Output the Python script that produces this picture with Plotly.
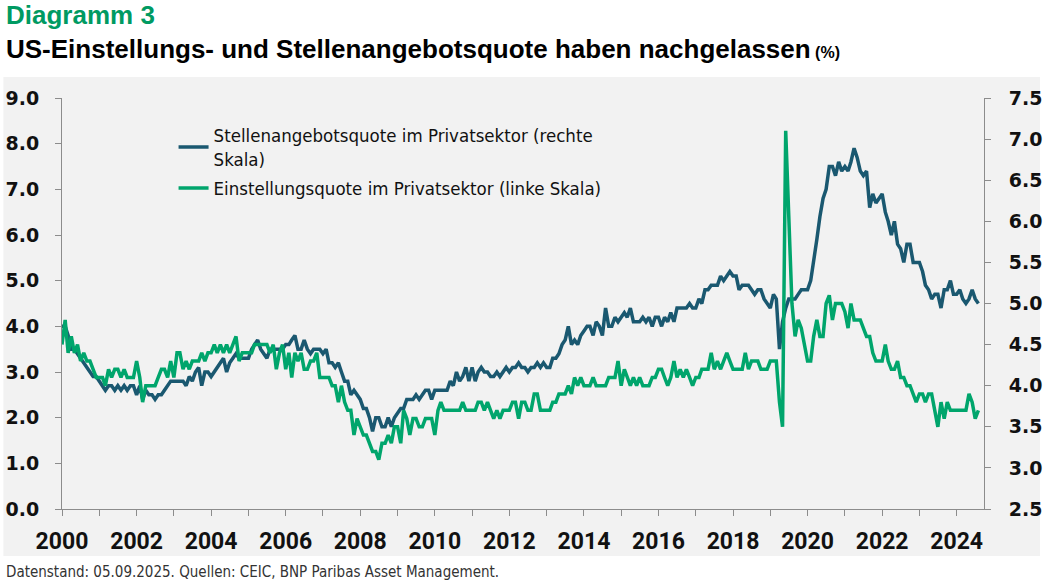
import plotly.graph_objects as go
import pandas as pd

# monthly values, one row per year (2000 ... 2024)
openings_rate = [
    4.0, 4.0, 3.8, 3.5, 3.5, 3.4, 3.3, 3.2, 3.1, 3.0, 2.9, 2.9,  # 2000
    2.8, 2.7, 2.6, 2.7, 2.7, 2.6, 2.7, 2.6, 2.7, 2.6, 2.7, 2.7,  # 2001
    2.5, 2.7, 2.4, 2.6, 2.5, 2.5, 2.4, 2.5, 2.5, 2.6, 2.7, 2.8,  # 2002
    2.8, 2.8, 2.8, 2.8, 2.7, 2.9, 2.8, 3.0, 3.1, 2.7, 3.0, 3.0,  # 2003
    2.9, 3.0, 3.1, 3.2, 3.3, 3.0, 3.2, 3.3, 3.4, 3.3, 3.3, 3.3,  # 2004
    3.3, 3.5, 3.6, 3.7, 3.5, 3.4, 3.3, 3.5, 3.5, 3.5, 3.5, 3.5,  # 2005
    3.6, 3.6, 3.7, 3.8, 3.5, 3.5, 3.7, 3.5, 3.4, 3.5, 3.5, 3.5,  # 2006
    3.4, 3.5, 3.2, 3.2, 3.1, 3.2, 3.0, 2.8, 2.8, 2.5, 2.6, 2.5,  # 2007
    2.4, 2.2, 2.2, 2.0, 1.7, 2.0, 2.0, 1.8, 1.8, 2.0, 1.8, 2.0,  # 2008
    2.1, 2.2, 2.2, 2.4, 2.4, 2.4, 2.5, 2.4, 2.5, 2.6, 2.6, 2.4,  # 2009
    2.6, 2.6, 2.6, 2.6, 2.6, 2.8, 2.7, 3.0, 2.8, 2.9, 3.1, 2.8,  # 2010
    3.1, 2.8, 3.0, 3.1, 3.0, 3.0, 2.9, 2.9, 3.0, 2.9, 3.0, 3.1,  # 2011
    3.0, 3.1, 3.1, 3.2, 3.1, 3.1, 3.0, 3.1, 3.1, 3.2, 3.1, 3.2,  # 2012
    3.1, 3.1, 3.3, 3.3, 3.4, 3.6, 3.7, 4.0, 3.6, 3.7, 3.6, 3.8,  # 2013
    3.9, 4.0, 4.0, 3.8, 4.1, 4.0, 3.8, 4.4, 4.0, 4.0, 4.2, 4.1,  # 2014
    4.2, 4.3, 4.2, 4.4, 4.1, 4.1, 4.1, 4.2, 4.1, 4.2, 4.0, 4.2,  # 2015
    4.2, 4.0, 4.2, 4.1, 4.3, 4.1, 4.4, 4.4, 4.4, 4.4, 4.5, 4.4,  # 2016
    4.4, 4.6, 4.5, 4.8, 4.8, 4.9, 4.9, 4.9, 5.1, 5.0, 5.1, 5.2,  # 2017
    5.1, 5.1, 4.8, 4.9, 4.9, 4.9, 4.8, 4.7, 4.8, 4.8, 4.6, 4.5,  # 2018
    4.4, 4.7, 4.6, 3.5, 4.1, 4.4, 4.6, 4.6, 4.6, 4.7, 4.8, 4.8,  # 2019
    4.8, 5.0, 5.4, 5.9, 6.4, 6.8, 7.0, 7.5, 7.5, 7.3, 7.6, 7.4,  # 2020
    7.5, 7.4, 7.6, 7.9, 7.7, 7.4, 7.3, 7.4, 6.6, 6.9, 6.7, 6.8,  # 2021
    6.9, 6.5, 6.3, 6.0, 6.3, 5.8, 5.7, 5.4, 5.8, 5.8, 5.4, 5.4,  # 2022
    5.4, 5.2, 4.9, 4.8, 4.6, 4.7, 4.7, 4.4, 4.8, 4.8, 5.0, 4.7,  # 2023
    4.7, 4.8, 4.6, 4.5, 4.6, 4.8, 4.6, 4.5,                      # 2024
]

hires_rate = [
    4.5, 4.8, 4.4, 4.6, 4.4, 4.5, 4.3, 4.4, 4.3, 4.3, 4.2, 4.1,  # 2000
    4.1, 4.1, 4.0, 4.2, 4.1, 4.2, 4.2, 4.1, 4.2, 4.1, 4.1, 4.1,  # 2001
    4.3, 4.1, 3.8, 4.0, 4.0, 4.0, 4.0, 4.1, 4.2, 4.2, 4.1, 4.3,  # 2002
    4.1, 4.4, 4.4, 4.2, 4.3, 4.2, 4.3, 4.3, 4.3, 4.4, 4.3, 4.4,  # 2003
    4.4, 4.5, 4.4, 4.5, 4.4, 4.5, 4.4, 4.5, 4.6, 4.3, 4.4, 4.4,  # 2004
    4.4, 4.4, 4.5, 4.5, 4.5, 4.5, 4.5, 4.4, 4.5, 4.2, 4.4, 4.5,  # 2005
    4.2, 4.4, 4.1, 4.4, 4.3, 4.4, 4.2, 4.2, 4.3, 4.3, 4.4, 4.1,  # 2006
    4.1, 4.1, 4.1, 4.0, 4.0, 3.8, 4.0, 3.8, 3.7, 3.7, 3.4, 3.6,  # 2007
    3.5, 3.4, 3.4, 3.3, 3.2, 3.2, 3.1, 3.3, 3.3, 3.4, 3.3, 3.5,  # 2008
    3.5, 3.3, 3.7, 3.6, 3.4, 3.6, 3.6, 3.5, 3.5, 3.6, 3.6, 3.6,  # 2009
    3.4, 3.7, 3.8, 3.7, 3.7, 3.7, 3.7, 3.7, 3.7, 3.8, 3.7, 3.7,  # 2010
    3.7, 3.7, 3.8, 3.8, 3.7, 3.8, 3.7, 3.6, 3.7, 3.6, 3.7, 3.7,  # 2011
    3.7, 3.8, 3.8, 3.6, 3.8, 3.8, 3.7, 3.7, 3.9, 3.9, 3.7, 3.7,  # 2012
    3.7, 3.7, 3.8, 3.8, 3.9, 3.9, 3.9, 4.0, 3.9, 4.1, 4.0, 4.1,  # 2013
    4.0, 4.0, 4.0, 4.1, 4.0, 4.0, 4.0, 4.0, 4.1, 4.1, 4.1, 4.3,  # 2014
    4.0, 4.2, 4.1, 4.0, 4.1, 4.0, 4.1, 4.0, 4.0, 4.0, 4.1, 4.1,  # 2015
    4.2, 4.2, 4.1, 4.0, 4.1, 4.3, 4.1, 4.2, 4.1, 4.2, 4.1, 4.0,  # 2016
    4.1, 4.1, 4.2, 4.2, 4.2, 4.4, 4.2, 4.3, 4.2, 4.3, 4.4, 4.3,  # 2017
    4.2, 4.2, 4.2, 4.2, 4.4, 4.2, 4.3, 4.3, 4.3, 4.2, 4.2, 4.2,  # 2018
    4.3, 4.3, 4.3, 3.8, 3.5, 7.1, 5.9, 5.0, 4.6, 4.8, 4.7, 4.5,  # 2019
    4.3, 4.3, 4.6, 4.8, 4.6, 4.6, 5.0, 5.1, 4.8, 5.0, 5.0, 5.0,  # 2020
    4.9, 4.7, 5.0, 4.8, 4.8, 4.8, 4.7, 4.6, 4.6, 4.4, 4.3, 4.3,  # 2021
    4.3, 4.5, 4.3, 4.2, 4.2, 4.3, 4.1, 4.1, 4.0, 4.0, 3.9, 3.8,  # 2022
    3.9, 3.9, 3.8, 3.9, 3.9, 3.7, 3.5, 3.8, 3.6, 3.8, 3.7, 3.7,  # 2023
    3.7, 3.7, 3.7, 3.7, 3.9, 3.8, 3.6, 3.7,                      # 2024
]

left_ticks = [0, 1, 2, 3, 4, 5, 6, 7, 8, 9]
right_ticks = [2.5, 3.0, 3.5, 4.0, 4.5, 5.0, 5.5, 6.0, 6.5, 7.0, 7.5]

dates = pd.date_range("2000-01-01", periods=len(openings_rate), freq="MS")

DARK = "#1a5870"
GREEN = "#00a56c"
AXIS = "#8c8c8c"

fig = go.Figure()

fig.add_trace(go.Scatter(
    x=dates, y=openings_rate, mode="lines", legendgroup="a",
    name="Stellenangebotsquote im Privatsektor (rechte<br>Skala)",
    line=dict(color=DARK, width=3.5),
))
fig.add_trace(go.Scatter(
    x=dates, y=hires_rate, mode="lines", yaxis="y2", legendgroup="b",
    name="Einstellungsquote im Privatsektor (linke Skala)",
    line=dict(color=GREEN, width=3.5),
))

tick_font = dict(family="DejaVu Sans", size=19, color="#111111", weight="bold")

fig.update_layout(
    width=1044, height=583,
    margin=dict(l=62, r=60, t=98, b=74),
    paper_bgcolor="white",
    plot_bgcolor="#f2f2f2",
    showlegend=True,
    legend=dict(
        x=0.121, y=0.955, xanchor="left", yanchor="top",
        bgcolor="rgba(0,0,0,0)",
        font=dict(family="DejaVu Sans Condensed", size=18.5, color="#111111"),
        tracegroupgap=2,
    ),
    xaxis=dict(
        type="date",
        range=["2000-01-01", "2024-09-25"],
        tick0="2000-01-01", dtick="M24", tickformat="%Y",
        ticks="outside", ticklen=6, tickcolor=AXIS,
        minor=dict(dtick="M12", ticks="outside", ticklen=6, tickcolor=AXIS),
        showline=True, linecolor=AXIS, linewidth=1,
        showgrid=False, zeroline=False, automargin=False,
        tickfont=dict(family="Roboto", size=23, color="#111111", weight="bold"),
        ticklabelstandoff=5,
    ),
    yaxis=dict(
        range=[0, 9], tickvals=left_ticks, tickformat=".1f",
        ticks="outside", ticklen=6, tickcolor=AXIS,
        showline=True, linecolor=AXIS, linewidth=1,
        showgrid=False, zeroline=False, automargin=False,
        tickfont=tick_font, ticklabelstandoff=12,
    ),
    yaxis2=dict(
        range=[2.5, 7.5], tickvals=right_ticks, tickformat=".1f",
        overlaying="y", side="right",
        ticks="outside", ticklen=6, tickcolor=AXIS,
        showline=True, linecolor=AXIS, linewidth=1,
        showgrid=False, zeroline=False, automargin=False,
        tickfont=tick_font, ticklabelstandoff=14,
    ),
)

# grey panel behind plot and axis labels
fig.add_shape(
    type="rect", xref="paper", yref="paper",
    x0=-0.0636, x1=1.0607, y0=-0.1144, y1=1.0511,
    fillcolor="#f2f2f2", line=dict(width=0), layer="below",
)

fig.add_annotation(
    xref="paper", yref="paper", x=-0.0625, y=1.202,
    xanchor="left", yanchor="middle", showarrow=False,
    text="<b>Diagramm 3</b>",
    font=dict(family="Liberation Sans", size=26, color="#009a62"),
)
fig.add_annotation(
    xref="paper", yref="paper", x=-0.0625, y=1.12,
    xanchor="left", yanchor="middle", showarrow=False,
    text="<b>US-Einstellungs- und Stellenangebotsquote haben nachgelassen</b>"
         "<span style='font-size:16px'><b> (%)</b></span>",
    font=dict(family="Liberation Sans", size=26, color="#000000"),
)
fig.add_annotation(
    xref="paper", yref="paper", x=-0.0625, y=-0.153,
    xanchor="left", yanchor="middle", showarrow=False,
    text="Datenstand: 05.09.2025. Quellen: CEIC, BNP Paribas Asset Management.",
    font=dict(family="DejaVu Sans Condensed", size=15, color="#333333"),
)

fig.write_html(
    "out.html",
    config={"displayModeBar": False},
    post_script="document.body.style.margin='0px';document.body.style.overflow='hidden';",
)
